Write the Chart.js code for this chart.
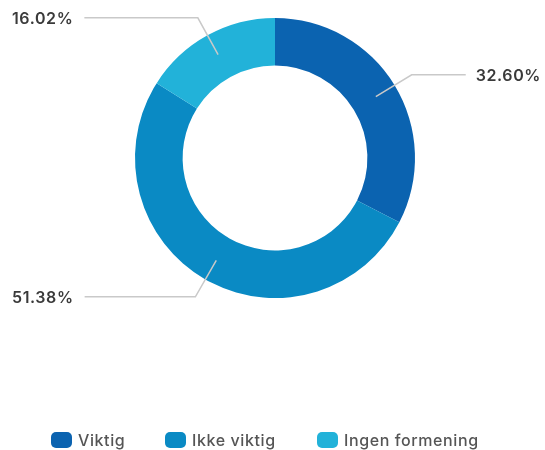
<!DOCTYPE html>
<html>
<head>
<meta charset="utf-8">
<script src="https://cdn.jsdelivr.net/npm/chart.js@4"></script>
<style>
  html, body { margin: 0; padding: 0; background: #fff; }
  #wrap { position: relative; width: 545px; height: 450px; overflow: hidden; }
  #c { position: absolute; left: 0; top: 0; }
  #legend { position: absolute; left: 0; top: 432px; width: 545px; height: 16px;
            font: 500 16px Inter, "Noto Sans", sans-serif; letter-spacing: 0.6px; color: #555; }
  .item { position: absolute; top: 0; height: 16px; display: flex; align-items: center; white-space: nowrap; }
  .item:nth-child(1) { left: 51px; }
  .item:nth-child(2) { left: 165px; }
  .item:nth-child(3) { left: 317px; }
  .swatch { width: 21px; height: 16px; border-radius: 5px; margin-right: 6px; flex: none; }
</style>
</head>
<body>
<div id="wrap">
  <canvas id="c" width="545" height="450"></canvas>
  <div id="legend"></div>
</div>
<script>
// Answers and their shares (percent)
const categories = ['Viktig', 'Ikke viktig', 'Ingen formening'];
const shares = [32.60, 51.38, 16.02];
const colors = ['#0b63b0', '#0a8ac4', '#22b2d9'];

// Percentage labels outside the ring, joined to each slice by an elbow line
const leaderLabels = {
  id: 'leaderLabels',
  afterDatasetsDraw(chart) {
    const ctx = chart.ctx;
    const meta = chart.getDatasetMeta(0);
    const values = chart.data.datasets[0].data;
    const W = chart.width;
    ctx.save();
    ctx.font = '600 16px Inter, "Noto Sans", sans-serif';
    if ('letterSpacing' in ctx) ctx.letterSpacing = '0.6px';
    ctx.textBaseline = 'middle';
    meta.data.forEach((arc, i) => {
      const p = arc.getProps(['x', 'y', 'startAngle', 'endAngle', 'outerRadius'], true);
      const mid = (p.startAngle + p.endAngle) / 2;
      const cos = Math.cos(mid), sin = Math.sin(mid);
      const r1 = p.outerRadius - 22, r2 = p.outerRadius + 20;
      const ax = p.x + cos * r1, ay = p.y + sin * r1;
      const ex = p.x + cos * r2, ey = p.y + sin * r2;
      const text = values[i].toFixed(2) + '%';
      const tw = ctx.measureText(text).width;
      const right = cos >= 0;
      const tx = right ? W - 4 : 12;
      const lx = right ? tx - tw - 10 : tx + tw + 11;

      ctx.strokeStyle = '#c9c9c9';
      ctx.lineWidth = 1.5;
      ctx.beginPath();
      ctx.moveTo(ax, ay);
      ctx.lineTo(ex, ey);
      ctx.lineTo(lx, ey);
      ctx.stroke();

      ctx.fillStyle = '#3a3a3a';
      ctx.textAlign = right ? 'right' : 'left';
      ctx.fillText(text, tx, ey + 1);
    });
    ctx.restore();
  }
};

const chart = new Chart(document.getElementById('c'), {
  type: 'doughnut',
  data: {
    labels: categories,
    datasets: [{
      data: shares,
      backgroundColor: colors,
      borderWidth: 0,
      hoverOffset: 0
    }]
  },
  options: {
    responsive: false,
    animation: false,
    cutout: '66%',
    layout: { padding: { top: 18, bottom: 152, left: 5, right: 0 } },
    plugins: {
      legend: { display: false },
      tooltip: { enabled: false }
    }
  },
  plugins: [leaderLabels]
});

// Legend built from the chart's own labels and colours
const legendEl = document.getElementById('legend');
chart.data.labels.forEach((label, i) => {
  const item = document.createElement('div');
  item.className = 'item';
  const sw = document.createElement('span');
  sw.className = 'swatch';
  sw.style.background = chart.data.datasets[0].backgroundColor[i];
  const t = document.createElement('span');
  t.textContent = label;
  item.appendChild(sw);
  item.appendChild(t);
  legendEl.appendChild(item);
});
</script>
</body>
</html>
